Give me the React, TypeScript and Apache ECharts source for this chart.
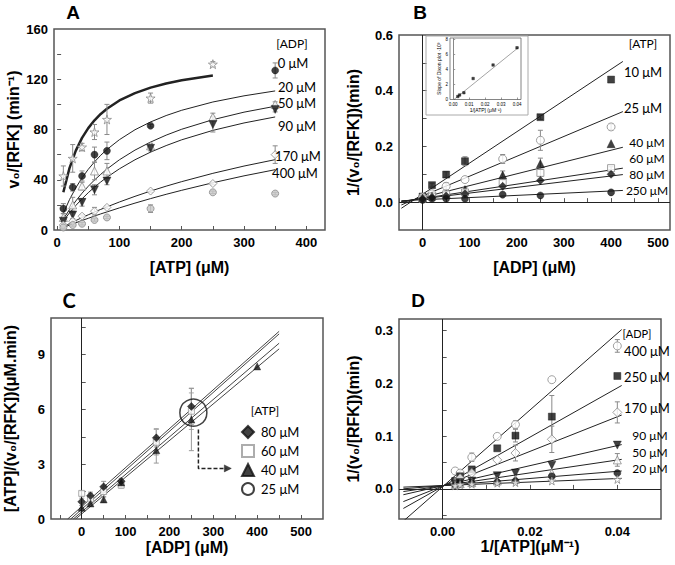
import React, { useEffect, useRef } from 'react';
import * as echarts from 'echarts';

// ---------- Panel A : v0/[RFK] vs [ATP] at several [ADP] ----------
const A_ATP = [10, 25, 40, 60, 80, 150, 250, 350];
const A_ADP0_X = [10, 25, 40, 60, 80, 150, 250];
const A_ADP0_Y = [43, 57, 66, 78, 88, 105, 132];
const A_ADP0_E = [8, 11, 3, 6, 12, 4, 2];
const A_ADP20_X = [10, 25, 40, 60, 80, 150, 350];
const A_ADP20_Y = [17, 34, 43, 60, 63, 83, 127];
const A_ADP20_E = [4, 3, 4, 6, 7, 1, 6];
const A_ADP50_Y = [10, 20, 35, 47, 47, 67, 90, 100];
const A_ADP50_E = [3, 6, 3, 7, 6, 2, 3, 2];
const A_ADP90_Y = [7, 12, 22, 32, 39, 65, 84, 96];
const A_ADP90_E = [2, 3, 3, 4, 3, 2, 6, 2];
const A_ADP170_Y = [4, 7, 11, 15, 18, 31, 37, 60];
const A_ADP170_E = [1, 1, 1, 3, 1, 1, 1, 7];
const A_ADP400_Y = [2, 4, 5, 8, 10, 17, 30, 29];
const A_ADP400_E = [1, 1, 1, 1, 1, 3, 1, 1];
// fitted curves
const A_FIT0_X = [10, 20, 30, 40, 50, 60, 70, 80, 100, 125, 150, 175, 200, 250];
const A_FIT0_Y = [30, 49.5, 63.2, 73.3, 81.1, 87.3, 92.4, 96.5, 103.1, 108.9, 113.3, 116.6, 119.2, 123];
const A_FIT_X = [10, 20, 30, 40, 50, 60, 70, 80, 100, 125, 150, 175, 200, 250, 300, 350];
const A_FIT20_Y = [13.3, 24.3, 33.6, 41.5, 48.3, 54.2, 59.5, 64.1, 71.9, 79.8, 86, 91.1, 95.3, 101.9, 106.8, 110.7];
const A_FIT50_Y = [8.7, 16.3, 23.1, 29.3, 34.8, 39.8, 44.3, 48.5, 55.9, 63.6, 70, 75.5, 80.2, 87.8, 93.8, 98.5];
const A_FIT90_Y = [7.2, 13.7, 19.5, 24.8, 29.7, 34.1, 38.2, 42, 48.7, 55.9, 62, 67.2, 71.8, 79.3, 85.2, 90];
const A_FIT170_Y = [2.6, 5.1, 7.5, 9.9, 12.1, 14.3, 16.4, 18.4, 22.3, 26.8, 31, 34.9, 38.5, 45.1, 50.9, 56];
const A_FIT400_Y = [2, 3.9, 5.7, 7.6, 9.3, 11.1, 12.8, 14.4, 17.6, 21.4, 25, 28.4, 31.6, 37.6, 43.1, 48];

// ---------- Panel B : Dixon plot 1/(v0/[RFK]) vs [ADP] ----------
const B_ADP = [0, 20, 50, 90, 170, 250, 400];
const B_ATP10_X = [0, 20, 50, 90, 250, 400];
const B_ATP10_Y = [0.02, 0.061, 0.099, 0.147, 0.305, 0.44];
const B_ATP10_E = [0, 0.007, 0.01, 0.016, 0.008, 0];
const B_ATP25_Y = [0.018, 0.03, 0.057, 0.081, 0.155, 0.222, 0.27];
const B_ATP25_E = [0, 0, 0.012, 0, 0.016, 0.036, 0.01];
const B_ATP40_Y = [0.015, 0.022, 0.03, 0.045, 0.097, 0.138, 0.21];
const B_ATP40_E = [0, 0, 0, 0.008, 0.015, 0.02, 0];
const B_ATP60_Y = [0.012, 0.02, 0.028, 0.035, 0.069, 0.105, 0.122];
const B_ATP60_E = [0, 0, 0, 0, 0.01, 0.012, 0.005];
const B_ATP80_Y = [0.012, 0.018, 0.022, 0.03, 0.057, 0.078, 0.1];
const B_ATP250_Y = [0.008, 0.012, 0.012, 0.012, 0.027, 0.024, 0.035];
const B_LINE_X = [-45, 425];
const B_LINE10 = [-0.022, 0.505];
const B_LINE25 = [-0.01, 0.325];
const B_LINE40 = [-0.002, 0.197];
const B_LINE60 = [0.002, 0.122];
const B_LINE80 = [0.003, 0.099];
const B_LINE250 = [0.005, 0.042];
// inset: slope of Dixon plot vs 1/[ATP]
const INSET_X = [0.0029, 0.004, 0.0067, 0.0125, 0.025, 0.04];
const INSET_Y = [0.4, 0.6, 0.9, 2.8, 4.6, 6.9];
const INSET_LINE_X = [0.0005, 0.041];
const INSET_LINE_Y = [0, 6.95];

// ---------- Panel C : [ATP]/(v0/[RFK]) vs [ADP] ----------
const C_ADP6 = [0, 20, 50, 90, 170, 250];
const C_ADP7 = [0, 20, 50, 90, 170, 250, 400];
const C_ATP80_Y = [0.94, 1.27, 1.76, 2.07, 4.44, 6.16];
const C_ATP80_E = [0.2, 0.2, 0.3, 0.15, 0.5, 1.0];
const C_ATP60_Y = [1.4, 1.1, 1.5, 1.85, 4.2, 5.9];
const C_ATP60_E = [0.1, 0.3, 0.3, 0.15, 0.7, 1.0];
const C_ATP40_Y = [0.62, 0.85, 1.07, 2.0, 3.76, 5.44, 8.35];
const C_ATP40_E = [0, 0, 0.15, 0, 0.7, 1.7, 0];
const C_LINE_LEFT_X = [-32, -25, -19, -14];
const C_LINE_RIGHT_X = 450;
const C_LINE_RIGHT_Y = [10.27, 10.13, 9.62, 9.31];
const C_HIGHLIGHT = [254.5, 5.82];
const C_ARROW_X = [266, 266, 330];
const C_ARROW_Y = [4.9, 2.77, 2.77];

// ---------- Panel D : Lineweaver-Burk 1/(v0/[RFK]) vs 1/[ATP] ----------
const D_X = [0.00286, 0.004, 0.00667, 0.0125, 0.01667, 0.025, 0.04];
const D_ADP400_Y = [0.034, 0.03, 0.06, 0.0995, 0.122, 0.207, 0.271];
const D_ADP400_E = [0, 0, 0.008, 0, 0.007, 0, 0.012];
const D_ADP250_Y = [0.015, 0.024, 0.037, 0.077, 0.101, 0.137, 0.214];
const D_ADP250_E = [0, 0, 0, 0, 0.012, 0.04, 0];
const D_ADP170_Y = [0.012, 0.02, 0.03, 0.055, 0.068, 0.094, 0.145];
const D_ADP170_E = [0, 0, 0, 0, 0.015, 0.025, 0.02];
const D_ADP90_Y = [0.01, 0.012, 0.015, 0.025, 0.03, 0.045, 0.083];
const D_ADP50_Y = [0.008, 0.01, 0.012, 0.015, 0.018, 0.03, 0.055];
const D_ADP50_E = [0, 0, 0, 0, 0, 0, 0.012];
const D_ADP20_Y = [0.007, 0.01, 0.011, 0.013, 0.015, 0.024, 0.03];
const D_ADP0_Y = [0.006, 0.008, 0.009, 0.011, 0.012, 0.015, 0.018];
const D_LINE_X = [-0.009, 0.041];
const D_LINE400 = [-0.061, 0.302];
const D_LINE250 = [-0.037, 0.196];
const D_LINE170 = [-0.024, 0.14];
const D_LINE90 = [-0.011, 0.084];
const D_LINE50 = [-0.005, 0.056];
const D_LINE20 = [0.0002, 0.034];
const D_LINE0 = [0.0034, 0.02];

const FONT_AX = '"Liberation Sans", Arial, sans-serif';
const FONT_LB = 'Lato, "Open Sans", "DejaVu Sans", sans-serif';
const GREY = '#8a8a8a';
const STAR = 'path://M50,0 L61,35 L98,35 L68,57 L79,91 L50,70 L21,91 L32,57 L2,35 L39,35 Z';

const xy = (xs: number[], ys: number[]) => xs.map((x, i) => [x, ys[i]]);
const xye = (xs: number[], ys: number[], es: number[]) => xs.map((x, i) => [x, ys[i], es[i]]);

const OPEN = (c = GREY) => ({ color: '#fff', borderColor: c, borderWidth: 1 });
const FILL = { color: '#111', borderColor: '#111', borderWidth: 0.5 };

function scatter(name: string, g: number, data: any[], symbol: string, itemStyle: any, size = 7, rotate = 0) {
  return {
    type: 'scatter', name, xAxisIndex: g, yAxisIndex: g, data, symbol, symbolSize: size,
    symbolRotate: rotate, itemStyle, z: 5, silent: true,
  };
}
function errs(g: number, data: any[], color = GREY) {
  return {
    type: 'custom', xAxisIndex: g, yAxisIndex: g, data, z: 4, silent: true,
    renderItem: (params: any, api: any) => {
      const e = api.value(2);
      if (!e) return null;
      const x = api.value(0);
      const y = api.value(1);
      const p1 = api.coord([x, y + e]);
      const p2 = api.coord([x, y - e]);
      const c = 2.5;
      const style = { stroke: color, lineWidth: 1 };
      return {
        type: 'group',
        children: [
          { type: 'line', shape: { x1: p1[0], y1: p1[1], x2: p2[0], y2: p2[1] }, style },
          { type: 'line', shape: { x1: p1[0] - c, y1: p1[1], x2: p1[0] + c, y2: p1[1] }, style },
          { type: 'line', shape: { x1: p2[0] - c, y1: p2[1], x2: p2[0] + c, y2: p2[1] }, style },
        ],
      };
    },
  };
}
function fit(g: number, data: any[], width = 1, extra: any = {}) {
  return {
    type: 'line', xAxisIndex: g, yAxisIndex: g, data, symbol: 'none', showSymbol: false,
    smooth: false, lineStyle: { color: '#222', width }, z: 3, silent: true, ...extra,
  };
}
function zeroLines(lines: any[], color = '#222') {
  return {
    silent: true, symbol: 'none', label: { show: false },
    lineStyle: { color, width: 1, type: 'solid' }, data: lines,
  };
}

function axis(grid: number, min: number, max: number, ticks: number[], labels: number[], fmt: (v: number) => string,
  name: string, nameGap: number, isY: boolean, small = false) {
  return {
    type: 'value', gridIndex: grid, min, max,
    axisLine: { show: false }, splitLine: { show: false },
    axisTick: { show: true, inside: true, length: small ? 2 : 4, customValues: ticks, lineStyle: { color: '#555', width: small ? 0.6 : 1 } },
    axisLabel: {
      customValues: labels, formatter: (v: number) => fmt(v), color: '#000', fontFamily: FONT_AX,
      fontWeight: small ? 'normal' : 'bold', fontSize: small ? 4.5 : 13, margin: small ? 2 : 6,
      showMinLabel: true, showMaxLabel: true,
    },
    name, nameLocation: 'middle', nameGap, nameRotate: isY ? 90 : 0,
    nameTextStyle: { fontFamily: FONT_AX, fontWeight: small ? 'normal' : 'bold', fontSize: small ? 5 : 16, color: '#000' },
  };
}
const f0 = (v: number) => String(Math.round(v));
const f1 = (v: number) => v.toFixed(1);
const f2 = (v: number) => v.toFixed(2);
const range = (a: number, b: number, s: number) => {
  const r: number[] = [];
  for (let i = 0; a + i * s <= b + s * 1e-6; i++) r.push(+(a + i * s).toFixed(6));
  return r;
};

function txt(text: string, x: number, y: number, size = 13, font = FONT_LB, weight = 'normal', align = 'center') {
  return {
    type: 'text', x, y, silent: true, z: 10,
    style: {
      text, fontSize: size, fontFamily: font, fontWeight: weight, fill: '#000', lineHeight: size,
      align, verticalAlign: 'middle', textAlign: align, textVerticalAlign: 'middle',
    },
  };
}

export default function App() {
  const ref = useRef<HTMLDivElement>(null);
  useEffect(() => {
    if (!ref.current) return;
    const chart = echarts.init(ref.current, undefined, { renderer: 'svg' });
    const gridBase = { show: true, borderColor: '#555', borderWidth: 1.5, backgroundColor: 'transparent', containLabel: false, outerBoundsMode: 'none' };

    const series: any[] = [
      // ---- A ----
      fit(0, xy(A_FIT0_X, A_FIT0_Y), 2.5),
      fit(0, xy(A_FIT_X, A_FIT20_Y)),
      fit(0, xy(A_FIT_X, A_FIT50_Y)),
      fit(0, xy(A_FIT_X, A_FIT90_Y)),
      fit(0, xy(A_FIT_X, A_FIT170_Y)),
      fit(0, xy(A_FIT_X, A_FIT400_Y)),
      errs(0, xye(A_ADP0_X, A_ADP0_Y, A_ADP0_E)),
      errs(0, xye(A_ADP20_X, A_ADP20_Y, A_ADP20_E)),
      errs(0, xye(A_ATP, A_ADP50_Y, A_ADP50_E)),
      errs(0, xye(A_ATP, A_ADP90_Y, A_ADP90_E)),
      errs(0, xye(A_ATP, A_ADP170_Y, A_ADP170_E)),
      errs(0, xye(A_ATP, A_ADP400_Y, A_ADP400_E)),
      scatter('A 0 μM', 0, xy(A_ADP0_X, A_ADP0_Y), STAR, OPEN(), 9),
      scatter('A 20 μM', 0, xy(A_ADP20_X, A_ADP20_Y), 'circle', FILL, 7),
      scatter('A 50 μM', 0, xy(A_ATP, A_ADP50_Y), 'triangle', OPEN(), 8),
      scatter('A 90 μM', 0, xy(A_ATP, A_ADP90_Y), 'triangle', FILL, 8, 180),
      scatter('A 170 μM', 0, xy(A_ATP, A_ADP170_Y), 'diamond', OPEN(), 8),
      scatter('A 400 μM', 0, xy(A_ATP, A_ADP400_Y), 'circle', { color: '#c8c8c8', borderColor: GREY, borderWidth: 1 }, 7),

      // ---- B ----
      fit(1, xy(B_LINE_X, B_LINE10), 1, { markLine: zeroLines([{ xAxis: 0 }, { yAxis: 0 }]) }),
      fit(1, xy(B_LINE_X, B_LINE25)),
      fit(1, xy(B_LINE_X, B_LINE40)),
      fit(1, xy(B_LINE_X, B_LINE60)),
      fit(1, xy(B_LINE_X, B_LINE80)),
      fit(1, xy(B_LINE_X, B_LINE250)),
      errs(1, xye(B_ATP10_X, B_ATP10_Y, B_ATP10_E)),
      errs(1, xye(B_ADP, B_ATP25_Y, B_ATP25_E)),
      errs(1, xye(B_ADP, B_ATP40_Y, B_ATP40_E)),
      errs(1, xye(B_ADP, B_ATP60_Y, B_ATP60_E)),
      scatter('B 10 μM', 1, xy(B_ATP10_X, B_ATP10_Y), 'rect', FILL, 7),
      scatter('B 25 μM', 1, xy(B_ADP, B_ATP25_Y), 'circle', OPEN(), 8),
      scatter('B 40 μM', 1, xy(B_ADP, B_ATP40_Y), 'triangle', FILL, 8),
      scatter('B 60 μM', 1, xy(B_ADP, B_ATP60_Y), 'rect', OPEN(), 7),
      scatter('B 80 μM', 1, xy(B_ADP, B_ATP80_Y), 'diamond', FILL, 8),
      scatter('B 250 μM', 1, xy(B_ADP, B_ATP250_Y), 'circle', FILL, 7),

      // ---- inset ----
      fit(4, xy(INSET_LINE_X, INSET_LINE_Y), 0.6, {
        lineStyle: { color: '#666', width: 0.6 },
        markLine: zeroLines([{ xAxis: 0 }], '#888'),
      }),
      scatter('inset', 4, xy(INSET_X, INSET_Y), 'rect', FILL, 2.5),

      // ---- C ----
      ...C_LINE_LEFT_X.map((lx, i) =>
        fit(2, [[lx, 0], [C_LINE_RIGHT_X, C_LINE_RIGHT_Y[i]]], 1,
          i === 0 ? { lineStyle: { color: '#444', width: 1 }, markLine: zeroLines([{ xAxis: 0 }]) } : { lineStyle: { color: '#444', width: 1 } })),
      errs(2, xye(C_ADP6, C_ATP80_Y, C_ATP80_E), '#999'),
      errs(2, xye(C_ADP6, C_ATP60_Y, C_ATP60_E), '#aaa'),
      errs(2, xye(C_ADP7, C_ATP40_Y, C_ATP40_E), '#999'),
      scatter('60 μM', 2, xy(C_ADP6, C_ATP60_Y), 'rect', OPEN('#999'), 6),
      scatter('80 μM', 2, xy(C_ADP6, C_ATP80_Y), 'diamond', FILL, 8),
      scatter('40 μM', 2, xy(C_ADP7, C_ATP40_Y), 'triangle', FILL, 7),
      scatter('25 μM', 2, [], 'circle', { color: '#fff', borderColor: '#111', borderWidth: 1.2 }, 8),
      scatter('C highlight', 2, [C_HIGHLIGHT], 'circle', { color: 'rgba(0,0,0,0)', borderColor: '#111', borderWidth: 1.5 }, 27),
      {
        type: 'line', xAxisIndex: 2, yAxisIndex: 2, data: xy(C_ARROW_X, C_ARROW_Y), symbol: 'none',
        lineStyle: { color: '#222', width: 1.5, type: [4, 2] }, z: 6, silent: true,
      },
      scatter('C arrow', 2, [[C_ARROW_X[2] + 3, C_ARROW_Y[2]]], 'triangle', FILL, 7, -90),

      // ---- D ----
      fit(3, xy(D_LINE_X, D_LINE400), 1, { markLine: zeroLines([{ xAxis: 0 }, { yAxis: 0 }]) }),
      fit(3, xy(D_LINE_X, D_LINE250)),
      fit(3, xy(D_LINE_X, D_LINE170)),
      fit(3, xy(D_LINE_X, D_LINE90)),
      fit(3, xy(D_LINE_X, D_LINE50)),
      fit(3, xy(D_LINE_X, D_LINE20)),
      fit(3, xy(D_LINE_X, D_LINE0)),
      errs(3, xye(D_X, D_ADP400_Y, D_ADP400_E)),
      errs(3, xye(D_X, D_ADP250_Y, D_ADP250_E)),
      errs(3, xye(D_X, D_ADP170_Y, D_ADP170_E)),
      errs(3, xye(D_X, D_ADP50_Y, D_ADP50_E)),
      scatter('D 400 μM', 3, xy(D_X, D_ADP400_Y), 'circle', OPEN(), 8),
      scatter('D 250 μM', 3, xy(D_X, D_ADP250_Y), 'rect', FILL, 7),
      scatter('D 170 μM', 3, xy(D_X, D_ADP170_Y), 'diamond', OPEN(), 9),
      scatter('D 90 μM', 3, xy(D_X, D_ADP90_Y), 'triangle', FILL, 8, 180),
      scatter('D 50 μM', 3, xy(D_X, D_ADP50_Y), 'triangle', OPEN(), 8),
      scatter('D 20 μM', 3, xy(D_X, D_ADP20_Y), 'circle', FILL, 7),
      scatter('D 0 μM', 3, xy(D_X, D_ADP0_Y), STAR, OPEN(), 8),
    ];

    const option: any = {
      animation: false,
      backgroundColor: '#fff',
      textStyle: { fontFamily: FONT_AX },
      grid: [
        { ...gridBase, left: 54, top: 29, width: 271, height: 201 },
        { ...gridBase, left: 399, top: 35, width: 271, height: 195 },
        { ...gridBase, left: 51, top: 318, width: 272, height: 201 },
        { ...gridBase, left: 399, top: 319, width: 262, height: 200 },
        { ...gridBase, left: 450, top: 38, width: 71, height: 61.5, borderColor: '#666', borderWidth: 0.8 },
      ],
      xAxis: [
        axis(0, -5, 430, range(0, 400, 50), range(0, 400, 100), f0, '[ATP] (μM)', 29, false),
        axis(1, -50, 525, range(-50, 500, 50), range(0, 500, 100), f0, '[ADP] (μM)', 29, false),
        axis(2, -70, 550, range(-50, 500, 50), range(0, 500, 100), f0, '[ADP] (μM)', 20, false),
        axis(3, -0.01, 0.05, range(0, 0.04, 0.01), range(0, 0.04, 0.02), f2, '1/[ATP](μM⁻¹)', 18, false),
        axis(4, -0.002, 0.0425, range(0, 0.04, 0.01), range(0, 0.04, 0.01), f2, '1/[ATP] (μM⁻¹)', 8, false, true),
      ],
      yAxis: [
        axis(0, 0, 160, range(20, 140, 20), range(0, 160, 40), f0, 'v₀/[RFK] (min⁻¹)', 33, true),
        axis(1, -0.1, 0.6, range(0, 0.5, 0.1), range(0, 0.6, 0.2), f1, '1/(v₀/[RFK])(min)', 38, true),
        axis(2, 0, 11, range(1.5, 10.5, 1.5), range(0, 9, 3), f0, '[ATP]/(v₀/[RFK])(μM.min)', 33, true),
        axis(3, -0.057, 0.322, range(-0.05, 0.3, 0.05), range(0, 0.3, 0.1), f1, '1/(v₀/[RFK])(min)', 38, true),
        axis(4, 0, 8.2, range(0, 8, 2), range(0, 8, 2), f0, 'Slope of Dixon plot ·10³', 6, true, true),
      ],
      legend: {
        data: ['80 μM', '60 μM', '40 μM', '25 μM'],
        orient: 'vertical', left: 236, top: 420, itemWidth: 12, itemHeight: 12, itemGap: 5,
        selectedMode: false,
        textStyle: { fontFamily: FONT_LB, fontSize: 13, color: '#000', padding: [0, 0, 0, 2] },
      },
      graphic: [
        { type: 'rect', shape: { x: 426, y: 36, width: 102, height: 79 }, style: { fill: 'none', stroke: '#aaa', lineWidth: 1 }, silent: true, z: 1 },
        txt('A', 73, 12, 19, FONT_AX, 'bold'),
        txt('B', 420, 12, 19, FONT_AX, 'bold'),
        txt('C', 69, 300, 20, FONT_LB, 'bold'),
        txt('D', 418, 300, 19, FONT_AX, 'bold'),
        txt('[ADP]', 292, 43, 12),
        txt('0 μM', 293, 63),
        txt('20 μM', 297, 87),
        txt('50 μM', 297, 103),
        txt('90 μM', 297, 126),
        txt('170 μM', 298, 156),
        txt('400 μM', 295, 173),
        txt('[ATP]', 643, 43, 12),
        txt('10 μM', 643, 72),
        txt('25 μM', 643, 108),
        txt('40 μM', 647, 142, 12),
        txt('60 μM', 647, 158, 12),
        txt('80 μM', 647, 174, 12),
        txt('250 μM', 647, 190, 12),
        txt('[ATP]', 265, 410, 12),
        txt('[ADP]', 637, 333, 11),
        txt('400 μM', 647, 351),
        txt('250 μM', 647, 377),
        txt('170 μM', 647, 408),
        txt('90 μM', 650, 435, 12),
        txt('50 μM', 650, 452, 12),
        txt('20 μM', 650, 468, 12),
      ],
      series,
    };
    chart.setOption(option);
    return () => chart.dispose();
  }, []);
  return (
    <div
      ref={ref}
      style={{ position: 'fixed', left: 0, top: 0, width: 675, height: 565, background: '#fff' }}
    />
  );
}
